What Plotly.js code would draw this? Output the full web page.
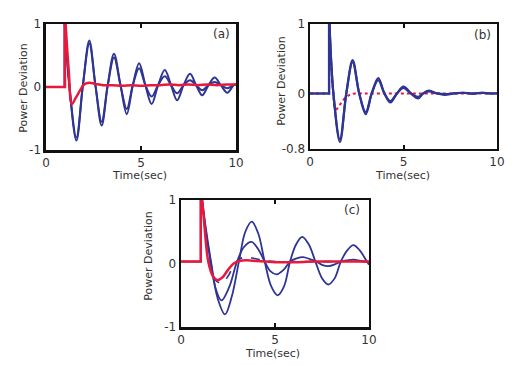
<!DOCTYPE html>
<html>
<head>
<meta charset="utf-8">
<script src="https://cdn.plot.ly/plotly-3.0.1.min.js"></script>
<style>html,body{margin:0;padding:0;background:#fff;}#chart{width:515px;height:365px;}</style>
</head>
<body>
<div id="chart"></div>
<script>
// ---------- Data ----------
const xTicks = [0, 5, 10];
const xTickText = ['0', '5', '10'];
const yTicksA = [-1, 0, 1];
const yTicksB = [-0.8, 0, 1];
const yTickTextB = ['-0.8', '0', '1'];
const yTicksC = [-1, 0, 1];
const panelLabels = ['(a)', '(b)', '(c)'];
const xTitle = 'Time(sec)';
const yTitle = 'Power Deviation';

// Panel (a)
const aPreBlueT = [0, 0.97, 0.97];
const aPreBlueY = [0, 0, 1.1];
const aPreRedT = [0, 1.0, 1.0];
const aPreRedY = [0, 0, 1.15];
const aBlueT = [0.97,1.23,1.6,1.94,2.28,2.6,2.93,3.25,3.58,3.92,4.25,4.57,4.9,5.23,5.56,5.9,6.25,6.58,6.9,7.24,7.58,7.9,8.22,8.55,8.88,9.2,9.54,9.87,10];
const aBlueOuterY = [1.1,0.02,-0.85,0.02,0.74,0.03,-0.61,0.03,0.53,0.03,-0.43,0.03,0.38,0.03,-0.27,0.03,0.27,0.03,-0.21,0.03,0.21,0.03,-0.13,0.03,0.15,0.03,-0.09,0.03,0.05];
const aBlueInnerY = [1.1,0.02,-0.80,0.03,0.69,0.03,-0.55,0.03,0.47,0.03,-0.35,0.03,0.30,0.03,-0.15,0.03,0.17,0.03,-0.10,0.03,0.11,0.03,-0.05,0.03,0.08,0.03,-0.02,0.03,0.04];
const aRedT = [1.0,1.2,1.36,1.55,1.8,2.0,2.25,2.6,3.0,3.5,4.0,4.5,5.0,5.5,6.0,6.5,7.0,7.5,8.0,8.5,9.0,9.5,10];
const aRedY = [1.15,0.25,-0.27,-0.18,-0.05,0.04,0.07,0.05,0.03,0.03,0.02,0.03,0.02,0.03,0.03,0.04,0.03,0.04,0.03,0.04,0.03,0.04,0.04];

// Panel (b)
const bPreT = [0, 1.02, 1.02];
const bPreY = [0, 0, 1.15];
const bBlueT = [1.02,1.25,1.6,1.94,2.28,2.63,2.98,3.3,3.65,3.98,4.3,4.65,5.0,5.4,5.78,6.05,6.35,6.8,7.2,7.7,8.2,8.7,9.2,9.6,10];
const bBlue1Y = [1.15,0.0,-0.70,0.0,0.48,0.0,-0.30,0.0,0.22,0.0,-0.13,0.0,0.10,0.0,-0.07,0.0,0.04,0.0,-0.02,0.0,0.01,-0.005,0.01,0.0,0.0];
const bBlue2Y = [1.15,0.0,-0.66,0.0,0.45,0.0,-0.27,0.0,0.19,0.0,-0.11,0.0,0.08,0.0,-0.05,0.0,0.03,0.0,-0.01,0.0,0.01,0.0,0.01,0.0,0.0];
const bRedT = [1.02,1.2,1.38,1.6,1.9,2.2,2.5,3,4,5,6,7,8,9,10];
const bRedY = [1.15,0.15,-0.23,-0.16,-0.06,-0.01,0,0,0,0,0,0,0,0,0];

// Panel (c)
const cPreT = [0, 1.05, 1.05];
const cPreY = [0.03, 0.03, 1.2];
const cRedT = [1.05,1.2,1.45,1.7,1.92,2.2,2.5,2.8,3.1,3.5,4.0,4.5,5.0,6.0,7.0,8.0,9.0,10];
const cRedY = [1.2,0.75,0.03,-0.2,-0.26,-0.22,-0.1,0.0,0.04,0.05,0.04,0.03,0.02,0.02,0.03,0.03,0.03,0.03];
const cDashT = [1.05,1.25,1.5,1.8,2.15,2.5,2.8,3.1,3.5,3.9,4.4,5.0,6.0,7.0,8.0,9.0,10];
const cDashY = [1.2,0.6,0.02,-0.25,-0.31,-0.2,-0.03,0.07,0.1,0.08,0.05,0.03,0.03,0.03,0.03,0.04,0.03];
const cMedT = [1.05,1.3,1.58,1.85,2.15,2.55,2.98,3.35,3.75,4.1,4.45,4.75,5.09,5.45,5.8,6.15,6.49,6.85,7.2,7.5,7.84,8.2,8.5,8.85,9.2,9.55,10];
const cMedY = [1.2,0.55,0.02,-0.4,-0.58,-0.38,0.03,0.26,0.34,0.23,0.03,-0.12,-0.17,-0.1,0.03,0.08,0.1,0.07,0.03,-0.02,-0.04,-0.01,0.03,0.05,0.06,0.04,0.02];
const cLargeT = [1.05,1.3,1.6,1.95,2.34,2.7,3.08,3.42,3.76,4.1,4.45,4.8,5.14,5.48,5.8,6.12,6.45,6.8,7.15,7.5,7.84,8.18,8.5,8.85,9.17,9.5,9.85,10];
const cLargeY = [1.2,0.6,0.02,-0.55,-0.8,-0.52,0.03,0.5,0.66,0.48,0.03,-0.36,-0.5,-0.36,0.03,0.3,0.42,0.3,0.03,-0.23,-0.33,-0.23,0.03,0.21,0.29,0.21,0.05,-0.02];

// ---------- Styling ----------
const BLUE = '#2e3592';
const RED = '#e8193c';
const FONT = 'DejaVu Sans';
const TXT = '#333333';

function line(x, y, xa, ya, color, width, shape, dash) {
  return {x: x, y: y, xaxis: xa, yaxis: ya, type: 'scatter', mode: 'lines',
          line: {color: color, width: width, shape: shape, dash: dash || 'solid', smoothing: 1},
          hoverinfo: 'skip'};
}

const traces = [
  // (a)
  line(aPreBlueT, aPreBlueY, 'x', 'y', BLUE, 2, 'linear'),
  line(aBlueT, aBlueOuterY, 'x', 'y', BLUE, 2, 'spline'),
  line(aBlueT, aBlueInnerY, 'x', 'y', BLUE, 2, 'spline'),
  line(aPreRedT, aPreRedY, 'x', 'y', RED, 2.5, 'linear'),
  line(aRedT, aRedY, 'x', 'y', RED, 2.5, 'spline'),
  // (b)
  line(bPreT, bPreY, 'x2', 'y2', RED, 2, 'linear', 'dot'),
  line(bRedT, bRedY, 'x2', 'y2', RED, 2, 'spline', 'dot'),
  line(bPreT, bPreY, 'x2', 'y2', BLUE, 2.4, 'linear'),
  line(bBlueT, bBlue1Y, 'x2', 'y2', BLUE, 2.2, 'spline'),
  line(bBlueT, bBlue2Y, 'x2', 'y2', BLUE, 2.2, 'spline'),
  // (c)
  line(cPreT, cPreY, 'x3', 'y3', BLUE, 1.8, 'linear'),
  line(cLargeT, cLargeY, 'x3', 'y3', BLUE, 1.8, 'spline'),
  line(cMedT, cMedY, 'x3', 'y3', BLUE, 1.8, 'spline'),
  line(cDashT, cDashY, 'x3', 'y3', BLUE, 1.6, 'spline', 'dash'),
  line(cPreT, cPreY, 'x3', 'y3', RED, 2.5, 'linear'),
  line(cRedT, cRedY, 'x3', 'y3', RED, 2.5, 'spline')
];

function xAxis(domain, anchor) {
  return {domain: domain, anchor: anchor, range: [0, 10], showgrid: false, zeroline: false,
          showline: true, mirror: 'ticks', linecolor: '#111', linewidth: 2.5,
          ticks: 'inside', ticklen: 4, tickwidth: 2, tickcolor: '#111',
          tickvals: xTicks, ticktext: xTickText, ticklabelstandoff: 0,
          tickfont: {family: FONT, size: 12, color: TXT}};
}
function yAxis(domain, anchor, range, tv, tt) {
  return {domain: domain, anchor: anchor, range: range, showgrid: false, zeroline: false,
          showline: true, mirror: true, linecolor: '#111', linewidth: 2.5,
          ticks: '', tickvals: tv, ticktext: tt,
          tickfont: {family: FONT, size: 12, color: TXT}};
}

function ann(text, x, y, angle, size) {
  return {text: text, x: x, y: y, xref: 'paper', yref: 'paper', showarrow: false,
          xanchor: 'center', yanchor: 'middle', textangle: angle || 0,
          font: {family: FONT, size: size || 11, color: TXT}};
}

const layout = {
  width: 515, height: 365,
  margin: {l: 0, r: 0, t: 0, b: 0},
  paper_bgcolor: '#fff', plot_bgcolor: '#fff',
  showlegend: false,
  xaxis: xAxis([0.0893, 0.4583], 'y'),
  yaxis: yAxis([0.589, 0.934], 'x', [-1, 1], yTicksA, ['-1', '0', '1']),
  xaxis2: xAxis([0.602, 0.965], 'y2'),
  yaxis2: yAxis([0.592, 0.934], 'x2', [-0.8, 1], yTicksB, yTickTextB),
  xaxis3: xAxis([0.3515, 0.7165], 'y3'),
  yaxis3: yAxis([0.104, 0.452], 'x3', [-1, 1], yTicksC, ['-1', '0', '1']),
  annotations: [
    ann(yTitle, 0.0441, 0.7589, -90),
    ann(xTitle, 0.2718, 0.519, 0),
    ann(panelLabels[0], 0.4305, 0.9068, 0, 12),
    ann(yTitle, 0.545, 0.778, -90),
    ann(xTitle, 0.782, 0.519, 0),
    ann(panelLabels[1], 0.9373, 0.904, 0, 12),
    ann(yTitle, 0.2893, 0.2995, -90),
    ann(xTitle, 0.5295, 0.031, 0),
    ann(panelLabels[2], 0.6829, 0.4247, 0, 12)
  ]
};

Plotly.newPlot('chart', traces, layout, {staticPlot: true, displayModeBar: false});
</script>
</body>
</html>
